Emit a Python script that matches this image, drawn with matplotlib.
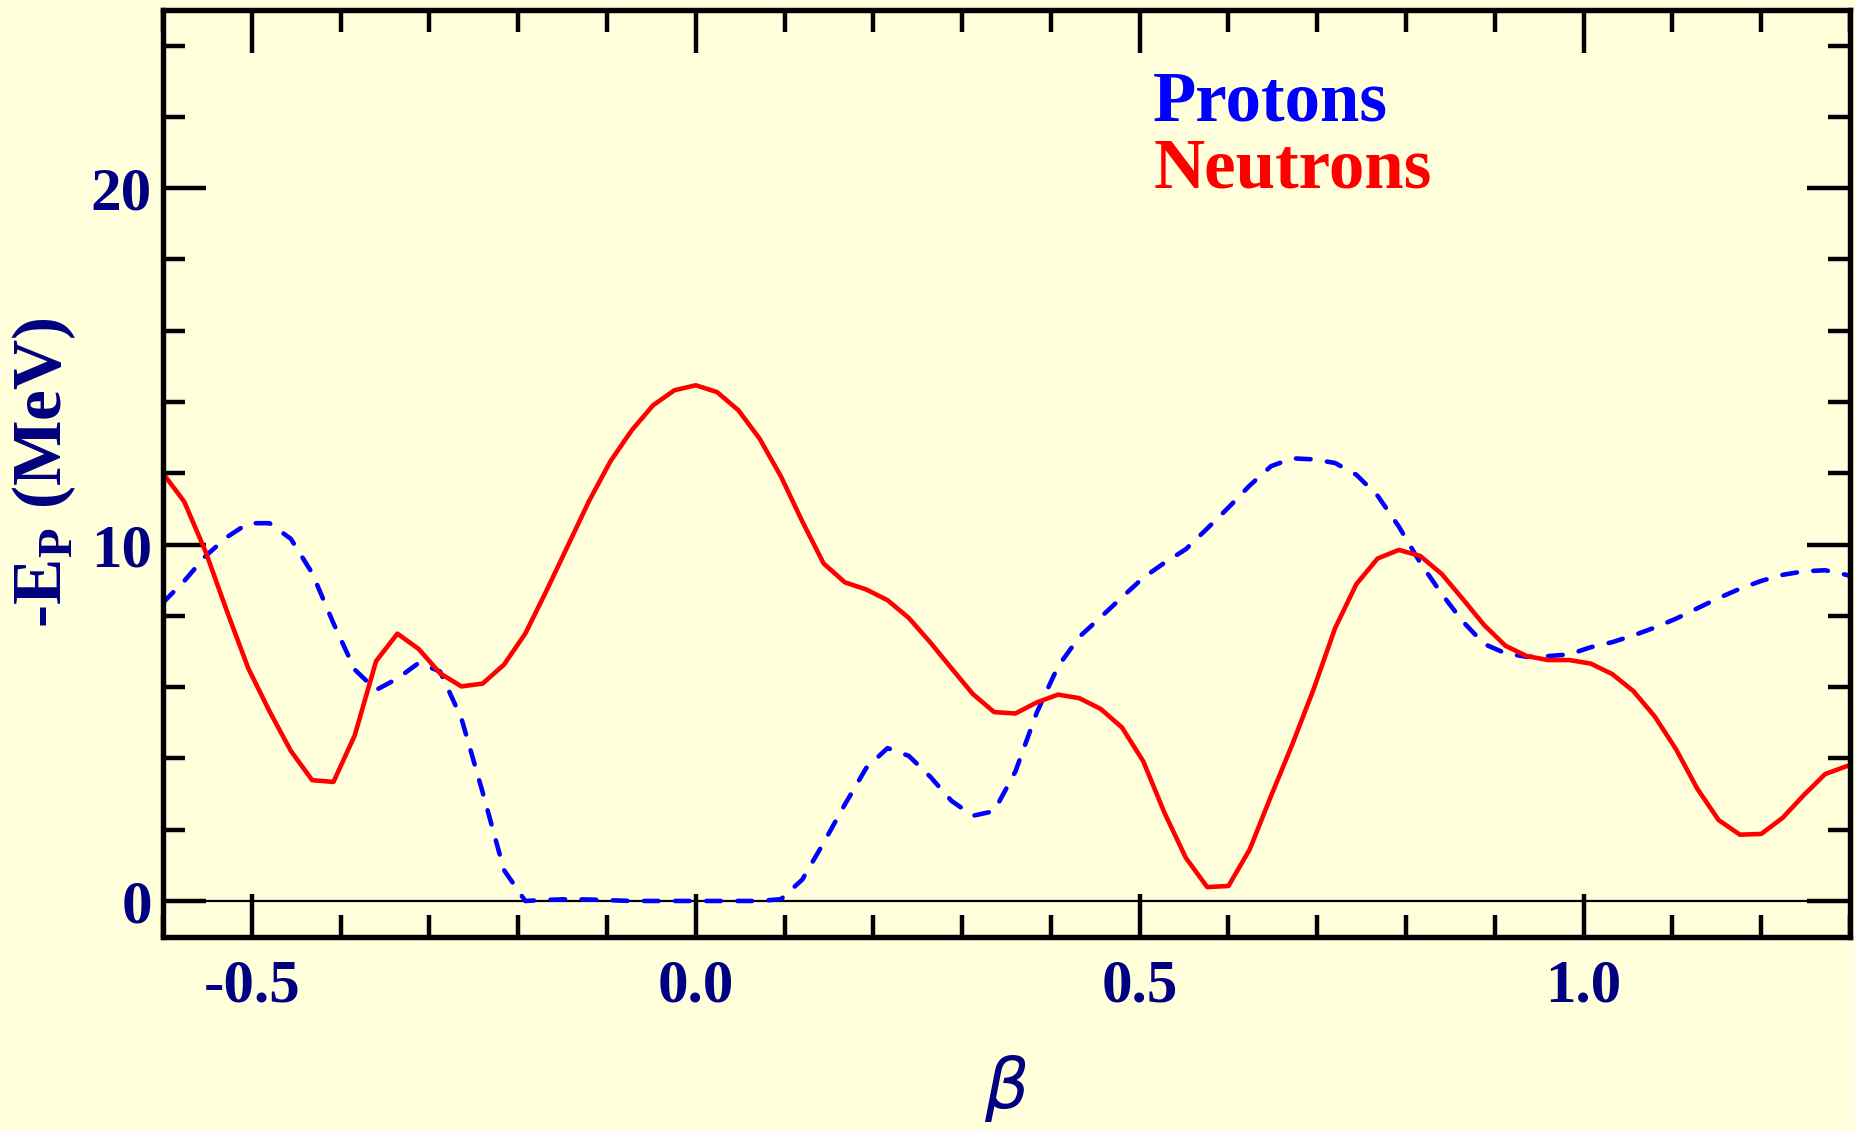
import matplotlib
matplotlib.use('Agg')
import matplotlib.pyplot as plt
from matplotlib.ticker import MultipleLocator, FixedLocator

# deformation grid
beta = [-0.600, -0.576, -0.552, -0.528, -0.504, -0.480, -0.456, -0.432, -0.408, -0.384,
        -0.360, -0.336, -0.312, -0.288, -0.264, -0.240, -0.216, -0.192, -0.168, -0.144,
        -0.120, -0.096, -0.072, -0.048, -0.024, 0.000, 0.024, 0.048, 0.072, 0.096,
        0.120, 0.144, 0.168, 0.192, 0.216, 0.240, 0.264, 0.288, 0.312, 0.336,
        0.360, 0.384, 0.408, 0.432, 0.456, 0.480, 0.504, 0.528, 0.552, 0.576,
        0.600, 0.624, 0.648, 0.672, 0.696, 0.720, 0.744, 0.768, 0.792, 0.816,
        0.840, 0.864, 0.888, 0.912, 0.936, 0.960, 0.984, 1.008, 1.032, 1.056,
        1.080, 1.104, 1.128, 1.152, 1.176, 1.200, 1.224, 1.248, 1.272, 1.296,
        1.320]

# neutron pairing energy (-E_P, MeV)
neutrons = [12.00, 11.20, 9.80, 8.13, 6.53, 5.32, 4.21, 3.39, 3.34, 4.65,
            6.73, 7.50, 7.07, 6.39, 6.02, 6.10, 6.63, 7.50, 8.71, 9.97,
            11.23, 12.34, 13.21, 13.91, 14.33, 14.47, 14.28, 13.77, 12.97, 11.91,
            10.65, 9.47, 8.94, 8.74, 8.44, 7.94, 7.26, 6.53, 5.81, 5.30,
            5.26, 5.57, 5.79, 5.69, 5.39, 4.87, 3.92, 2.47, 1.21, 0.39,
            0.42, 1.45, 2.95, 4.40, 5.95, 7.65, 8.89, 9.61, 9.85, 9.68,
            9.18, 8.47, 7.74, 7.16, 6.87, 6.76, 6.76, 6.66, 6.37, 5.89,
            5.18, 4.26, 3.15, 2.27, 1.86, 1.88, 2.33, 2.97, 3.56, 3.78,
            3.95]

# proton pairing energy (-E_P, MeV)
protons = [8.37, 8.98, 9.68, 10.21, 10.60, 10.60, 10.16, 9.20, 7.79, 6.49,
           5.92, 6.24, 6.68, 6.44, 5.13, 3.05, 0.87, 0.00, 0.03, 0.05,
           0.04, 0.02, 0.00, 0.00, 0.00, 0.00, 0.00, 0.00, 0.00, 0.05,
           0.60, 1.63, 2.71, 3.73, 4.29, 4.07, 3.49, 2.81, 2.39, 2.52,
           3.63, 5.28, 6.58, 7.41, 7.96, 8.52, 9.07, 9.49, 9.87, 10.45,
           11.04, 11.66, 12.20, 12.42, 12.39, 12.29, 11.96, 11.37, 10.50, 9.49,
           8.62, 7.84, 7.21, 6.95, 6.85, 6.87, 6.92, 7.12, 7.26, 7.45,
           7.67, 7.92, 8.21, 8.50, 8.76, 8.98, 9.15, 9.25, 9.28, 9.15,
           8.95]

x_ticks = [-0.5, 0.0, 0.5, 1.0]
x_ticklabels = ['-0.5', '0.0', '0.5', '1.0']
y_ticks = [0, 10, 20]

bg = '#FFFFDC'
navy = '#000080'

plt.rcParams['mathtext.fontset'] = 'custom'
plt.rcParams['mathtext.rm'] = 'Liberation Serif:bold'
plt.rcParams['mathtext.bf'] = 'Liberation Serif:bold'

fig = plt.figure(figsize=(18.55, 11.30), dpi=100, facecolor=bg)
ax = fig.add_axes([163 / 1855, 1 - 936.6 / 1130, (1850 - 163) / 1855, (936.6 - 10) / 1130])
ax.set_facecolor(bg)

ax.axhline(0, color='black', lw=1.6, zorder=1)
ax.plot(beta, neutrons, color='red', lw=3.3, zorder=3)
ax.plot(beta, protons, color='blue', lw=3.3, dashes=(3.2, 3.6),
        dash_capstyle='round', zorder=2)

ax.set_xlim(-0.6, 1.3)
ax.set_ylim(-1, 25)

ax.xaxis.set_major_locator(FixedLocator(x_ticks))
ax.set_xticklabels(x_ticklabels)
ax.xaxis.set_minor_locator(MultipleLocator(0.1))
ax.yaxis.set_major_locator(FixedLocator(y_ticks))
ax.yaxis.set_minor_locator(MultipleLocator(2))

ax.tick_params(which='both', direction='in', top=True, right=True, width=3.2, color='black')
ax.tick_params(which='major', length=31)
ax.tick_params(which='minor', length=16)
ax.tick_params(axis='x', which='major', pad=16)
ax.tick_params(axis='y', which='major', pad=8)
for lab in ax.get_xticklabels() + ax.get_yticklabels():
    lab.set_fontfamily('Liberation Serif')
    lab.set_fontweight('bold')
    lab.set_fontsize(44)
    lab.set_color(navy)

for sp in ax.spines.values():
    sp.set_linewidth(3.9)
    sp.set_zorder(5)

ax.text(0.587, 0.881, 'Protons', transform=ax.transAxes, color='blue',
        fontfamily='Liberation Serif', fontweight='bold', fontsize=51, va='baseline')
ax.text(0.587, 0.808, 'Neutrons', transform=ax.transAxes, color='red',
        fontfamily='Liberation Serif', fontweight='bold', fontsize=51, va='baseline')

fig.text(44 / 1855, 1 - 473 / 1130, r'-E$_{\mathrm{P}}$ (MeV)', rotation=90,
         ha='center', va='center', color=navy, fontfamily='Liberation Serif',
         fontweight='bold', fontsize=50)
fig.text(1006 / 1855, 1 - 1089 / 1130, 'β', ha='center', va='center', color=navy,
         fontfamily='DejaVu Sans', fontstyle='italic', fontsize=50)

fig.savefig('out.png', dpi=100, facecolor=bg)
